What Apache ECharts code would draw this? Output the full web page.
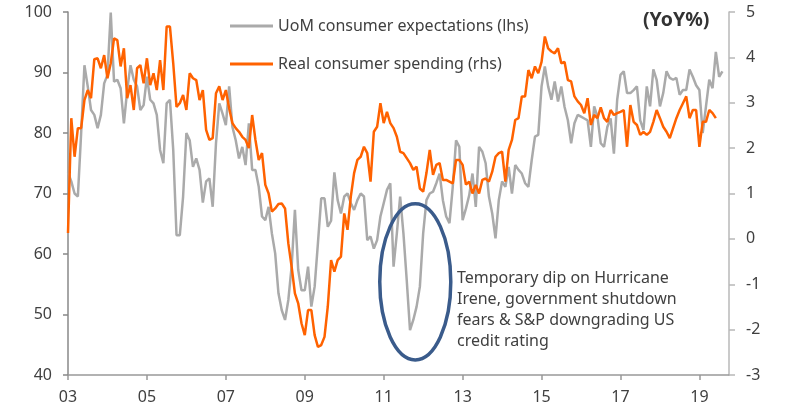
<!DOCTYPE html>
<html>
<head>
<meta charset="utf-8">
<title>UoM expectations vs real consumer spending</title>
<script src="https://cdn.jsdelivr.net/npm/echarts@6.0.0/dist/echarts.min.js"></script>
<style>
  html, body { margin: 0; padding: 0; background: #fff; }
  #main { width: 800px; height: 412px; }
</style>
</head>
<body>
<div id="main"></div>
<script>
// x positions are month-ends counted from the start of 2003 (0 = Jan 2003 axis start)
var yearTicks = [0, 24, 48, 72, 96, 120, 144, 168, 192];
var firstYear = 3;

// UoM consumer expectations index (lhs), monthly
var uomExpectations = [
    73.5, 72, 70, 69.5, 80, 91.2, 87.7, 83.8, 83, 80.8, 83, 88.2,
    89.6, 99.9, 88.5, 88.8, 87.4, 81.6, 87.1, 91.2, 88.8, 87.7, 83.8, 84.6,
    89.3, 85.5, 84.9, 83, 77.2, 75, 84.9, 85.5, 77.2, 63.1, 63.1, 69.5,
    80, 78.8, 74.4, 75.8, 73.9, 68.5, 72, 72.5, 67.8, 78.3, 84.9, 83.2,
    81.3, 87.7, 81, 78.8, 75.8, 77.7, 74.7, 81.6, 73.9, 73.9, 71.1, 66.2,
    65.6, 67.8, 63.4, 60.1, 53.5, 50.7, 49.1, 52.4, 57.9, 67.3, 57.4, 54,
    54, 57.9, 51.3, 54.6, 61.8, 69.2, 69.2, 64.5, 65.5, 73.5, 68.9, 66.7,
    69.5, 70, 68.4, 67.3, 68.9, 70, 69.5, 62.3, 62.9, 60.9, 62.3, 66.2,
    68.4, 70.6, 71.7, 57.9, 63.4, 69.5, 63.4, 55.7, 47.4, 49.1, 51.3, 54.6,
    63.4, 68.9, 70, 70.3, 71.7, 73.3, 68.9, 66.2, 65.1, 71.1, 78.8, 77.7,
    65.6, 67.5, 69.7, 73.3, 67.8, 77.7, 76.9, 75, 69.5, 66.7, 62.6, 68.9,
    72, 71.1, 74.4, 70, 74.7, 73.9, 73.3, 71.7, 71.1, 75.5, 79.4, 79.7,
    87.7, 91, 87.7, 85.5, 88.5, 85.2, 87.7, 84.3, 82.1, 78.3, 81.6, 83,
    82.7, 82.4, 82.1, 77.7, 84.4, 82.7, 78.3, 77.7, 81, 82.4, 76.6, 85.5,
    89.6, 90.2, 86.6, 86.6, 87.1, 87.7, 82.1, 80.5, 87.7, 84.4, 90.5, 88.8,
    84.4, 86.6, 90.2, 89.1, 88.8, 89.1, 86.3, 87.1, 87.1, 90.5, 89.3, 87.9,
    87.1, 80, 84.4, 88.8, 87.4, 93.4, 89.3, 90.2
];

// Real consumer spending, YoY% (rhs), monthly
var realSpending = [
    0.13, 2.66, 1.81, 2.44, 2.44, 3.06, 3.28, 3.1, 3.96, 3.98, 3.76, 4.05,
    3.54, 3.87, 4.42, 4.38, 3.8, 4.2, 3.1, 3.39, 2.84, 3.76, 3.83, 3.43,
    3.98, 3.39, 3.65, 3.28, 3.94, 3.28, 4.68, 4.68, 3.87, 2.91, 2.99, 3.17,
    2.84, 3.65, 3.54, 3.5, 3.06, 3.28, 2.4, 2.18, 2.22, 3.21, 3.36, 3.06,
    3.28, 2.88, 2.55, 2.44, 2.36, 2.25, 2.18, 2.0, 2.73, 2.18, 1.74, 1.89,
    1.19, 1.0, 0.6, 0.67, 0.77, 0.78, 0.67, -0.1, -0.61, -1.2, -1.42, -1.86,
    -2.12, -1.57, -1.57, -2.12, -2.38, -2.34, -2.16, -1.49, -0.47, -0.72, -0.47, -0.39,
    0.56, 0.2, 0.93, 1.45, 1.74, 1.81, 2.03, 1.89, 1.26, 2.36, 2.47, 2.99,
    2.55, 2.8, 2.55, 2.44, 2.25, 1.92, 1.89, 1.78, 1.67, 1.52, 1.59, 1.11,
    1.04, 1.45, 1.96, 1.41, 1.63, 1.67, 1.3, 1.3, 1.26, 1.22, 1.74, 1.74,
    1.63, 1.2, 1.26, 1.0, 1.19, 1.0, 1.3, 1.33, 1.26, 1.48, 1.81, 1.89,
    1.92, 1.26, 1.96, 2.18, 2.62, 2.66, 3.14, 3.14, 3.72, 3.54, 3.8, 3.65,
    3.9, 4.46, 4.2, 4.13, 4.09, 4.2, 3.87, 3.9, 3.5, 3.47, 3.14, 3.03,
    2.95, 2.77, 3.1, 2.51, 2.73, 2.66, 2.9, 2.66, 2.58, 2.84, 2.73, 2.77,
    2.8, 2.84, 2.03, 2.95, 2.58, 2.51, 2.29, 2.36, 2.29, 2.36, 2.58, 2.84,
    2.66, 2.47, 2.36, 2.22, 2.44, 2.66, 2.84, 2.99, 3.14, 2.66, 2.84, 2.84,
    2.03, 2.58, 2.58, 2.84, 2.77, 2.66
];

// annotation: ellipse around the 2011 dip, in data units (months, lhs index)
var dipCentre = [105.6, 55.4];
var dipRadius = [10.8, 12.9];
var dipNote = 'Temporary dip on Hurricane\nIrene, government shutdown\nfears & S&P downgrading US\ncredit rating';

var FONT = 'Noto Sans';
var TEXT_COLOR = '#404040';

function toPoints(values) {
    return values.map(function (v, i) { return [i, v]; });
}

var myChart = echarts.init(document.getElementById('main'));

var option = {
    animation: false,
    textStyle: { fontFamily: FONT },
    grid: { left: 68, right: 71, top: 12, bottom: 37 },
    legend: {
        orient: 'vertical',
        left: 225,
        top: 11,
        itemWidth: 43,
        itemHeight: 3,
        itemGap: 18,
        icon: 'rect',
        textStyle: { fontFamily: FONT, fontSize: 16, color: TEXT_COLOR, lineHeight: 20 },
        data: ['UoM consumer expectations (lhs)', 'Real consumer spending (rhs)']
    },
    xAxis: {
        type: 'value',
        min: 0,
        max: 201,
        interval: 24,
        splitLine: { show: false },
        axisLine: { onZero: false, lineStyle: { color: '#999', width: 1.5 } },
        axisTick: { show: true, length: 5, lineStyle: { color: '#999', width: 1.5 }, customValues: yearTicks },
        axisLabel: {
            customValues: yearTicks,
            margin: 14,
            fontSize: 16,
            color: TEXT_COLOR,
            formatter: function (v) {
                var yr = firstYear + Math.round(v / 12);
                return (yr < 10 ? '0' : '') + yr;
            }
        }
    },
    yAxis: [{
        type: 'value',
        min: 40,
        max: 100,
        interval: 10,
        splitLine: { show: false },
        axisLine: { show: true, lineStyle: { color: '#888', width: 1.5 } },
        axisTick: { show: true, length: 5, lineStyle: { color: '#888', width: 1.5 } },
        axisLabel: { margin: 16, fontSize: 16, color: TEXT_COLOR }
    }, {
        type: 'value',
        min: -3,
        max: 5,
        interval: 1,
        splitLine: { show: false },
        axisLine: { show: true, lineStyle: { color: '#b8b8b8', width: 1.5 } },
        axisTick: { show: true, length: 6, lineStyle: { color: '#b8b8b8', width: 1.5 } },
        axisLabel: { margin: 17, fontSize: 16, color: TEXT_COLOR }
    }],
    series: [{
        name: 'UoM consumer expectations (lhs)',
        type: 'line',
        yAxisIndex: 0,
        data: toPoints(uomExpectations),
        showSymbol: false,
        color: '#aaaaaa',
        lineStyle: { width: 2.5, color: '#aaaaaa' }
    }, {
        name: 'Real consumer spending (rhs)',
        type: 'line',
        yAxisIndex: 1,
        data: toPoints(realSpending),
        showSymbol: false,
        color: '#ff6200',
        lineStyle: { width: 2.5, color: '#ff6200' }
    }]
};
myChart.setOption(option);

// place the ellipse and notes once the axes exist
var c = myChart.convertToPixel({ seriesIndex: 0 }, dipCentre);
var edge = myChart.convertToPixel({ seriesIndex: 0 }, [dipCentre[0] + dipRadius[0], dipCentre[1] + dipRadius[1]]);
myChart.setOption({
    graphic: [{
        type: 'ellipse',
        z: 100,
        shape: { cx: c[0], cy: c[1], rx: edge[0] - c[0], ry: c[1] - edge[1] },
        style: { fill: null, stroke: '#3a5b8b', lineWidth: 3.5 }
    }, {
        type: 'text',
        z: 100,
        left: 457,
        top: 268,
        style: { text: dipNote, font: '16px "' + FONT + '"', fill: TEXT_COLOR, lineHeight: 21 }
    }, {
        type: 'text',
        z: 100,
        left: 643,
        top: 10,
        style: { text: '(YoY%)', font: 'bold 19.5px "' + FONT + '"', fill: '#333' }
    }]
});
</script>
</body>
</html>
